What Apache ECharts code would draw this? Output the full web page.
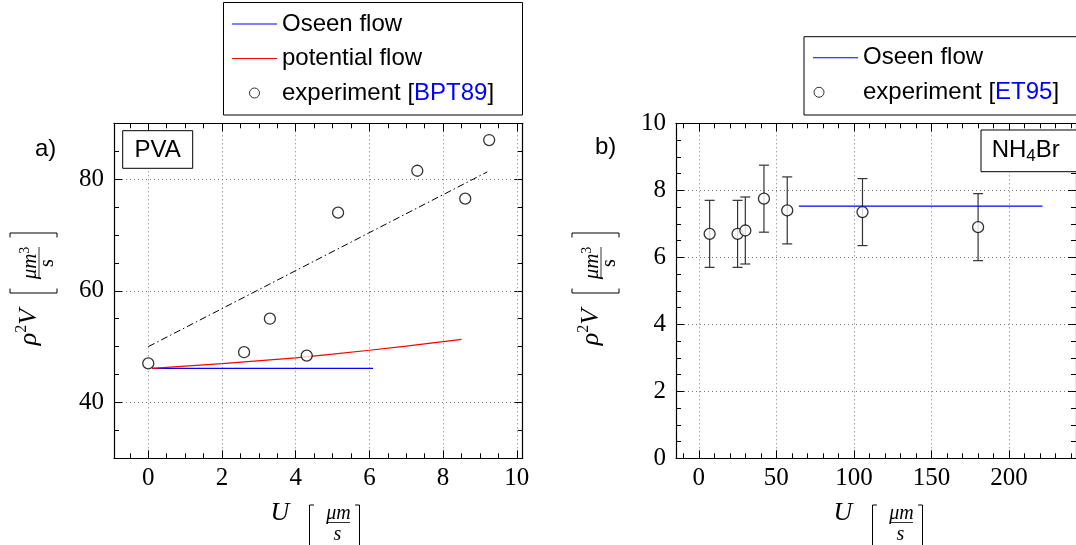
<!DOCTYPE html>
<html>
<head>
<meta charset="utf-8">
<script src="https://cdn.jsdelivr.net/npm/echarts@6/dist/echarts.min.js"></script>
<style>
html, body { margin: 0; padding: 0; background: #fff; }
#chart { width: 1076px; height: 545px; }
</style>
</head>
<body>
<div id="chart"></div>
<script>
// a) PVA
const xTicksA = [0, 2, 4, 6, 8, 10];
const yTicksA = [40, 60, 80];
const oseenA = [[0.1, 46.1], [6.1, 46.1]];
const potentialA = [[0.1, 46.1], [2, 46.95], [4, 48.0], [5, 48.65], [6, 49.35], [7, 50.1], [8.5, 51.3]];
const expAX = [0, 2.6, 3.3, 4.3, 5.15, 7.3, 8.6, 9.25];
const expAY = [47.0, 49.0, 55.0, 48.4, 74.0, 81.5, 76.5, 87.0];
const fitA = [[0, 50], [9.2, 81.3]];

// b) NH4Br
const xTicksB = [0, 50, 100, 150, 200];
const yTicksB = [0, 2, 4, 6, 8, 10];
const oseenB = [[64.5, 7.53], [221.5, 7.53]];
const expBX = [7, 25, 30, 42, 57, 105.5, 180];
const expBY = [6.7, 6.7, 6.8, 7.75, 7.4, 7.35, 6.9];
const errB = [1, 1, 1, 1, 1, 1, 1];

var serif = 'Liberation Serif', sans = 'Liberation Sans';
var myChart = echarts.init(document.getElementById('chart'));

function frameAxis(o) {
  return {
    type: 'value', gridIndex: o.grid, position: o.pos, min: o.min, max: o.max,
    splitNumber: o.split, z: o.z,
    axisLine: { show: true, onZero: false, lineStyle: { color: '#000', width: 1.2 } },
    axisTick: { show: true, inside: true, length: 8, customValues: o.ticks, lineStyle: { color: '#000', width: 1 } },
    minorTick: { show: true, splitNumber: o.minor, length: 5, lineStyle: { color: '#000', width: 1 } },
    axisLabel: { show: !!o.main, customValues: o.ticks, margin: o.margin || 8, fontFamily: serif, fontSize: 25, color: '#000' },
    splitLine: { show: !!o.main, lineStyle: { color: '#7a7a7a', width: 1, type: [1, 3] } }
  };
}

//U [μm/s]
function xLabel(cx) {
  var y = 513;
  var br = { stroke: '#000', lineWidth: 1, fill: null };
  return [
    { type: 'text', x: cx, y: y, style: { text: 'U', font: 'italic 26px "Liberation Serif"', fill: '#000', align: 'center', verticalAlign: 'middle' } },
    { type: 'polyline', shape: { points: [[cx + 34, 505], [cx + 29.5, 505], [cx + 29.5, 546], [cx + 34, 546]] }, style: br },
    { type: 'text', x: cx + 58.5, y: 513.5, style: { text: 'μm', font: 'italic 20px "Liberation Serif"', fill: '#000', align: 'center', verticalAlign: 'middle' } },
    { type: 'line', shape: { x1: cx + 46.7, y1: 522.5, x2: cx + 70, y2: 522.5 }, style: { stroke: '#000', lineWidth: 0.8 } },
    { type: 'text', x: cx + 57.5, y: 535, style: { text: 's', font: 'italic 20px "Liberation Serif"', fill: '#000', align: 'center', verticalAlign: 'middle' } },
    { type: 'polyline', shape: { points: [[cx + 75, 505], [cx + 79.5, 505], [cx + 79.5, 546], [cx + 75, 546]] }, style: br }
  ];
}

//ρ²V [μm³/s], rotated
function yLabel(gx) {
  var r = Math.PI / 2;
  var br = { stroke: '#000', lineWidth: 1, fill: null };
  var rich = {
    i: { fontFamily: serif, fontStyle: 'italic', fontSize: 26, lineHeight: 30 },
    p: { fontFamily: serif, fontSize: 16, lineHeight: 16, verticalAlign: 'top' },
    n: { fontFamily: serif, fontStyle: 'italic', fontSize: 21, lineHeight: 24 },
    q: { fontFamily: serif, fontSize: 14, lineHeight: 13, verticalAlign: 'top' }
  };
  return [
    { type: 'text', x: gx, y: 327, rotation: r, style: { text: '{i|ρ}{p|2}{i|V}', rich: rich, fill: '#000', align: 'center', verticalAlign: 'middle' } },
    { type: 'polyline', shape: { points: [[gx - 19, 288.5], [gx - 19, 293], [gx + 28, 293], [gx + 28, 288.5]] }, style: br },
    { type: 'polyline', shape: { points: [[gx - 19, 237.5], [gx - 19, 233], [gx + 28, 233], [gx + 28, 237.5]] }, style: br },
    { type: 'text', x: gx + 1, y: 263, rotation: r, style: { text: '{n|μm}{q|3}', rich: rich, fill: '#000', align: 'center', verticalAlign: 'middle' } },
    { type: 'line', shape: { x1: gx + 10, y1: 247, x2: gx + 10, y2: 279 }, style: { stroke: '#000', lineWidth: 0.8 } },
    { type: 'text', x: gx + 19, y: 263, rotation: r, style: { text: 's', font: '20px "Liberation Serif"', fill: '#000', align: 'center', verticalAlign: 'middle' } }
  ];
}

var legendText = {
  fontFamily: sans, fontSize: 24, color: '#000', lineHeight: 34.5,
  rich: { c: { color: '#0000ff', fontFamily: sans, fontSize: 24, lineHeight: 34.5 } }
};
function legendFmt(n) { return n.replace(/\[(.+)\]/, '[{c|$1}]'); }
// plain line icon (tiny end segments keep the 45x10 box)
var lineIcon = 'path://M0,0L0.01,0M0,4.5L45,4.5L45,5.6L0,5.6ZM0,10L0.01,10';

var option = {
  backgroundColor: '#fff',
  animation: false,
  grid: [
    { left: 114, top: 123.3, width: 408.7, height: 335 },
    { left: 676, top: 123.3, width: 409.2, height: 335 }
  ],
  xAxis: [
    frameAxis({ grid: 0, pos: 'bottom', min: -0.93, max: 10.16, split: 5, minor: 4, ticks: xTicksA, main: true, z: 2, margin: 8 }),
    frameAxis({ grid: 0, pos: 'top', min: -0.93, max: 10.16, split: 5, minor: 4, ticks: xTicksA, z: 2 }),
    frameAxis({ grid: 1, pos: 'bottom', min: -14.68, max: 243.1, split: 5, minor: 5, ticks: xTicksB, main: true, z: 2, margin: 8 }),
    frameAxis({ grid: 1, pos: 'top', min: -14.68, max: 243.1, split: 5, minor: 5, ticks: xTicksB, z: 2 })
  ],
  yAxis: [
    frameAxis({ grid: 0, pos: 'left', min: 30, max: 90, split: 3, minor: 4, ticks: yTicksA, main: true, z: 1, margin: 10 }),
    frameAxis({ grid: 0, pos: 'right', min: 30, max: 90, split: 3, minor: 4, ticks: yTicksA, z: 1 }),
    frameAxis({ grid: 1, pos: 'left', min: 0, max: 10, split: 5, minor: 4, ticks: yTicksB, main: true, z: 1, margin: 10 }),
    frameAxis({ grid: 1, pos: 'right', min: 0, max: 10, split: 5, minor: 4, ticks: yTicksB, z: 1 })
  ],
  legend: [
    {
      left: 232, top: 6.75, orient: 'vertical', padding: 0, itemGap: 0, itemWidth: 45, itemHeight: 10,
      selectedMode: false, textStyle: legendText, formatter: legendFmt,
      data: [
        { name: 'Oseen flow', icon: lineIcon, itemStyle: { color: '#0000ff', borderWidth: 0 } },
        { name: 'potential flow', icon: lineIcon, itemStyle: { color: '#ff0000', borderWidth: 0 } },
        { name: 'experiment [BPT89]', icon: 'circle', itemStyle: { color: '#fff', borderColor: '#000', borderWidth: 1 } }]
    },
    {
      left: 813, top: 40.5, orient: 'vertical', padding: 0, itemGap: 0, itemWidth: 45, itemHeight: 10,
      selectedMode: false, textStyle: legendText, formatter: legendFmt,
      data: [
        { name: 'Oseen flow', icon: lineIcon, itemStyle: { color: '#0000ff', borderWidth: 0 } },
        { name: 'experiment [ET95]', icon: 'path://M2,5a5,5 0 1,0 10,0a5,5 0 1,0 -10,0zM44.9,5L45,5', itemStyle: { color: '#fff', borderColor: '#000', borderWidth: 1 } }]
    }
  ],
  series: [
    {
      name: 'Oseen flow', type: 'line', xAxisIndex: 0, yAxisIndex: 0, data: oseenA, symbol: 'none', z: 5,
      lineStyle: { color: '#0000ff', width: 1.2 }, itemStyle: { color: '#0000ff' }
    },
    {
      name: 'potential flow', type: 'line', xAxisIndex: 0, yAxisIndex: 0, data: potentialA, symbol: 'none', z: 5,
      lineStyle: { color: '#ff0000', width: 1.2 }, itemStyle: { color: '#ff0000' }
    },
    {
      name: 'fit', type: 'line', xAxisIndex: 0, yAxisIndex: 0, data: fitA, symbol: 'none', z: 5,
      lineStyle: { color: '#000', width: 1, type: [7, 3, 1.5, 3] }
    },
    {
      name: 'experiment [BPT89]', type: 'scatter', xAxisIndex: 0, yAxisIndex: 0, z: 6,
      data: expAX.map(function (x, i) { return [x, expAY[i]]; }),
      symbol: 'circle', symbolSize: 11,
      itemStyle: { color: '#fff', borderColor: '#000', borderWidth: 1.3 }
    },
    {
      name: 'Oseen flow', type: 'line', xAxisIndex: 2, yAxisIndex: 2, data: oseenB, symbol: 'none', z: 5,
      lineStyle: { color: '#0000ff', width: 1.2 }, itemStyle: { color: '#0000ff' }
    },
    {
      name: 'err', type: 'custom', xAxisIndex: 2, yAxisIndex: 2, z: 5,
      data: expBX.map(function (x, i) { return [x, expBY[i] - errB[i], expBY[i] + errB[i]]; }),
      renderItem: function (params, api) {
        var lo = api.coord([api.value(0), api.value(1)]);
        var hi = api.coord([api.value(0), api.value(2)]);
        var w = 5;
        var st = { stroke: '#333', lineWidth: 1.2 };
        return {
          type: 'group', children: [
            { type: 'line', shape: { x1: lo[0], y1: lo[1], x2: hi[0], y2: hi[1] }, style: st },
            { type: 'line', shape: { x1: lo[0] - w, y1: lo[1], x2: lo[0] + w, y2: lo[1] }, style: st },
            { type: 'line', shape: { x1: hi[0] - w, y1: hi[1], x2: hi[0] + w, y2: hi[1] }, style: st }
          ]
        };
      }
    },
    {
      name: 'experiment [ET95]', type: 'scatter', xAxisIndex: 2, yAxisIndex: 2, z: 6,
      data: expBX.map(function (x, i) { return [x, expBY[i]]; }),
      symbol: 'circle', symbolSize: 11,
      itemStyle: { color: '#fff', borderColor: '#000', borderWidth: 1.3 }
    }
  ],
  graphic: [].concat(
    [
      { type: 'rect', z: 1, shape: { x: 223.5, y: 2.5, width: 299, height: 112.5 }, style: { fill: '#fff', stroke: '#000', lineWidth: 1 } },
      { type: 'rect', z: 1, shape: { x: 804, y: 36.7, width: 300, height: 78.3 }, style: { fill: '#fff', stroke: '#000', lineWidth: 1 } },
      { type: 'rect', z: 10, shape: { x: 122.7, y: 130.7, width: 70, height: 37.6 }, style: { fill: '#fff', stroke: '#000', lineWidth: 1 } },
      { type: 'text', z: 11, x: 157.7, y: 150, style: { text: 'PVA', font: '24px "Liberation Sans"', fill: '#000', align: 'center', verticalAlign: 'middle' } },
      { type: 'rect', z: 10, shape: { x: 981, y: 130, width: 110, height: 41.7 }, style: { fill: '#fff', stroke: '#000', lineWidth: 1 } },
      {
        type: 'text', z: 11, x: 991.7, y: 150, style: {
          text: '{a|NH}{s|4}{a|Br}', fill: '#000', align: 'left', verticalAlign: 'middle',
          rich: {
            a: { fontFamily: sans, fontSize: 24, lineHeight: 30 },
            s: { fontFamily: sans, fontSize: 17, lineHeight: 18, verticalAlign: 'bottom' }
          }
        }
      },
      { type: 'text', x: 35, y: 149, style: { text: 'a)', font: '24px "Liberation Sans"', fill: '#000', align: 'left', verticalAlign: 'middle' } },
      { type: 'text', x: 595, y: 147, style: { text: 'b)', font: '24px "Liberation Sans"', fill: '#000', align: 'left', verticalAlign: 'middle' } }
    ],
    xLabel(280), xLabel(843), yLabel(29), yLabel(591)
  )
};

myChart.setOption(option);
</script>
</body>
</html>
